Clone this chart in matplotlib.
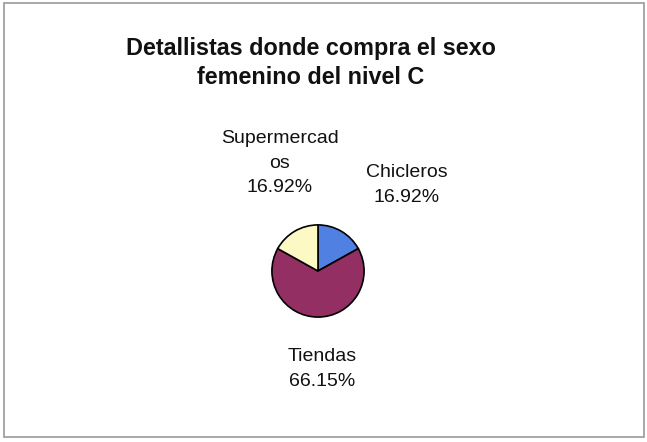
import matplotlib
matplotlib.use("Agg")
import matplotlib.pyplot as plt
from matplotlib.patches import Rectangle

plt.rcParams['font.family'] = ['Liberation Sans', 'DejaVu Sans']

title = "Detallistas donde compra el sexo\nfemenino del nivel C"
categories = ["Chicleros", "Tiendas", "Supermercados"]
label_texts = ["Chicleros", "Tiendas", "Supermercad\nos"]
values = [16.92, 66.15, 16.92]
colors = ["#4F80E2", "#932F62", "#FDF9C4"]

W, H = 647, 442
fig = plt.figure(figsize=(W / 100, H / 100), dpi=100)
fig.patch.set_facecolor("white")

# outer chart border
fig.add_artist(Rectangle((4 / W, 5 / H), 640 / W, 434 / H, transform=fig.transFigure,
                         fill=False, edgecolor="#9a9a9a", linewidth=1.2))

fig.text(311 / W, 1 - 63 / H, title, ha="center", va="center", fontsize=16.8,
         fontweight="bold", linespacing=1.38, color="#111111")

cx, cy, r = 318, 271, 47
ax = fig.add_axes([(cx - r) / W, 1 - (cy + r) / H, 2 * r / W, 2 * r / H])
ax.pie(values, colors=colors, startangle=90, counterclock=False,
       wedgeprops=dict(edgecolor="black", linewidth=1.2))
ax.set_xlim(-1.02, 1.02)
ax.set_ylim(-1.02, 1.02)
ax.set_aspect("equal")
ax.axis("off")

# label positions (pixel layout)
label_pos = [(407, 185), (322, 369), (280, 163)]
for txt, v, (x, y) in zip(label_texts, values, label_pos):
    fig.text(x / W, 1 - y / H, f"{txt}\n{v:.2f}%", ha="center", va="center",
             fontsize=14, linespacing=1.6, color="#111111")

fig.savefig("out.png", dpi=100, facecolor="white")
